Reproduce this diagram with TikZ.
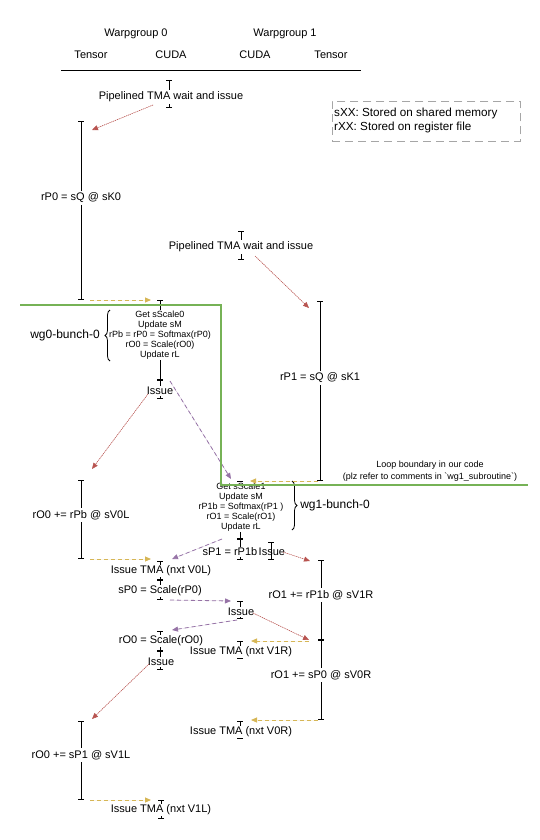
\documentclass[tikz,border=0pt]{standalone}
\usepackage{fontspec}
\setmainfont{Liberation Sans}
\usetikzlibrary{arrows.meta,decorations.pathreplacing}
\definecolor{redline}{HTML}{B85450}
\definecolor{yellowline}{HTML}{D6B656}
\definecolor{purpleline}{HTML}{9673A6}
\definecolor{loopgreen}{RGB}{118,178,86}
\definecolor{legendgray}{HTML}{A6A6A6}
\begin{document}
\begin{tikzpicture}[x=1pt,y=-1pt,
  txt/.style={inner sep=1pt, font=\fontsize{11}{13}\selectfont},
  lbl/.style={fill=white, inner sep=2pt, font=\fontsize{11}{13}\selectfont},
  blocktxt/.style={fill=white, inner sep=0.5pt, align=center, font=\fontsize{9}{10}\selectfont},
  bunch/.style={inner sep=1pt, font=\fontsize{12}{14}\selectfont},
  small/.style={inner sep=1pt, font=\fontsize{9}{11}\selectfont},
  ivl/.style={line width=0.9pt, {Bar[width=6pt]}-{Bar[width=6pt]}},
  tip/.style={-{Triangle[length=6pt,width=5pt]}},
  issuearrow/.style={tip, draw=redline, fill=redline, line width=0.6pt, dash pattern=on 1pt off 1pt},
  tmaarrow/.style={tip, draw=yellowline, fill=yellowline, line width=0.9pt, dash pattern=on 4pt off 3pt},
  softarrow/.style={tip, draw=purpleline, fill=purpleline, line width=0.8pt, dash pattern=on 4pt off 3pt},
  loopline/.style={draw=loopgreen, line width=1.1pt},
  bracestyle/.style={decorate, decoration={brace, amplitude=5pt}, line width=0.8pt}
]
\useasboundingbox (0,0) rectangle (540,840);

% ---- column header ----
\node[txt] (hwg0) at (136,34) {Warpgroup 0};
\node[txt] (hwg1) at (285,34) {Warpgroup 1};
\node[txt] (ht0) at (91,55) {Tensor};
\node[txt] (hc0) at (171,55) {CUDA};
\node[txt] (hc1) at (255,55) {CUDA};
\node[txt] (ht1) at (331,55) {Tensor};
\coordinate (ruleL) at (61,70);
\coordinate (ruleR) at (361,70);
\draw[line width=0.9pt] (ruleL) -- (ruleR);

% ---- legend ----
\node[draw=legendgray, dash pattern=on 8pt off 5pt, line width=0.7pt,
      minimum width=188pt, minimum height=40pt, anchor=north west] (legend) at (332,101) {};
\node[txt, anchor=west, font=\fontsize{11.7}{13}\selectfont] (leg1) at (333,113) {sXX: Stored on shared memory};
\node[txt, anchor=west, font=\fontsize{11.7}{13}\selectfont] (leg2) at (333,127) {rXX: Stored on register file};

% ---- pipelined TMA, warpgroup 0 ----
\coordinate (pa0) at (169,80); \coordinate (pa1) at (169,108);
\draw[ivl] (pa0) -- (pa1);
\node[lbl] (pipe0) at (171,97) {Pipelined TMA wait and issue};

% ---- rP0 = sQ @ sK0 ----
\coordinate (qa0) at (81,121); \coordinate (qa1) at (81,300);
\draw[ivl] (qa0) -- (qa1);
\node[lbl] (gemm0) at (81,198) {rP0 = sQ @ sK0};

% ---- pipelined TMA, warpgroup 1 ----
\coordinate (pb0) at (241,231); \coordinate (pb1) at (241,260);
\draw[ivl] (pb0) -- (pb1);
\node[lbl] (pipe1) at (241,247) {Pipelined TMA wait and issue};

% ---- rP1 = sQ @ sK1 ----
\coordinate (qb0) at (320,301); \coordinate (qb1) at (320,481);
\draw[ivl] (qb0) -- (qb1);
\node[lbl] (gemm1) at (320,378) {rP1 = sQ @ sK1};

% ---- wg0 bunch 0 ----
\coordinate (wa0) at (160,300); \coordinate (wa1) at (160,380); \coordinate (wa2) at (160,399);
\draw[ivl] (wa0) -- (wa1);
\draw[ivl] (wa1) -- (wa2);
\node[blocktxt] (bunch0) at (160,335) {Get sScale0\\Update sM\\rPb = rP0 = Softmax(rP0)\\rO0 = Scale(rO0)\\Update rL};
\node[lbl, inner sep=1pt] (issue0) at (160,391) {Issue};
\coordinate (br0a) at (110,361); \coordinate (br0b) at (110,310);
\draw[bracestyle] (br0a) -- (br0b);
\node[bunch] (bunch0lbl) at (65,335) {wg0-bunch-0};

% ---- rO0 += rPb @ sV0L ----
\coordinate (ra0) at (81,480); \coordinate (ra1) at (81,559);
\draw[ivl] (ra0) -- (ra1);
\node[lbl] (pv0) at (81,515) {rO0 += rPb @ sV0L};

% ---- wg1 bunch 0 ----
\coordinate (wb0) at (240,481); \coordinate (wb1) at (240,539); \coordinate (wb2) at (240,560);
\draw[ivl] (wb0) -- (wb1);
\draw[ivl] (wb1) -- (wb2);
\node[blocktxt] (bunch1) at (241,507) {Get sScale1\\Update sM\\rP1b = Softmax(rP1 )\\rO1 = Scale(rO1)\\Update rL};
\coordinate (br1a) at (292,481); \coordinate (br1b) at (292,530);
\draw[bracestyle] (br1a) -- (br1b);
\node[bunch] (bunch1lbl) at (335,505) {wg1-bunch-0};
\coordinate (wc0) at (271,542); \coordinate (wc1) at (271,560);
\draw[ivl] (wc0) -- (wc1);
\node[lbl, inner sep=1pt, anchor=east] (sp1) at (258.5,552) {sP1 = rP1b};
\node[txt, anchor=west, inner sep=0pt] (issue1) at (258.5,552) {Issue};

% ---- loop boundary note ----
\node[small] (loop1) at (430,465) {Loop boundary in our code};
\node[small] (loop2) at (430,477) {(plz refer to comments in \textasciigrave wg1\_subroutine\textasciigrave)};

% ---- rO1 += rP1b @ sV1R / rO1 += sP0 @ sV0R ----
\coordinate (rb0) at (321,560); \coordinate (rb1) at (321,640); \coordinate (rb2) at (321,720);
\draw[ivl] (rb0) -- (rb1);
\draw[ivl] (rb1) -- (rb2);
\node[lbl] (pv1) at (321,595) {rO1 += rP1b @ sV1R};
\node[lbl] (pv2) at (321,675) {rO1 += sP0 @ sV0R};

% ---- warpgroup 0, CUDA after bunch 0 ----
\coordinate (ca0) at (160,561); \coordinate (ca1) at (160,580); \coordinate (ca2) at (160,600);
\draw[ivl] (ca0) -- (ca1);
\draw[ivl] (ca1) -- (ca2);
\node[lbl, inner sep=1pt] (tmav0l) at (161,571) {Issue TMA (nxt V0L)};
\node[lbl, inner sep=1pt] (sp0) at (160,591) {sP0 = Scale(rP0)};

\coordinate (cb0) at (240,601); \coordinate (cb1) at (240,619);
\draw[ivl] (cb0) -- (cb1);
\node[lbl, inner sep=1pt] (issue2) at (241,612) {Issue};

\coordinate (cc0) at (160,631); \coordinate (cc1) at (160,651); \coordinate (cc2) at (160,670);
\draw[ivl] (cc0) -- (cc1);
\draw[ivl] (cc1) -- (cc2);
\node[lbl, inner sep=1pt] (scale0) at (161,641) {rO0 = Scale(rO0)};
\node[lbl, inner sep=1pt] (issue3) at (161,662) {Issue};

\coordinate (cd0) at (240,641); \coordinate (cd1) at (240,659);
\draw[ivl] (cd0) -- (cd1);
\node[lbl, inner sep=1pt] (tmav1r) at (241,652) {Issue TMA (nxt V1R)};

\coordinate (ce0) at (240,721); \coordinate (ce1) at (240,739);
\draw[ivl] (ce0) -- (ce1);
\node[lbl, inner sep=1pt] (tmav0r) at (241,732) {Issue TMA (nxt V0R)};

% ---- rO0 += sP1 @ sV1L ----
\coordinate (rc0) at (81,721); \coordinate (rc1) at (81,800);
\draw[ivl] (rc0) -- (rc1);
\node[lbl] (pv3) at (81,755) {rO0 += sP1 @ sV1L};

\coordinate (cf0) at (161,800); \coordinate (cf1) at (161,819);
\draw[ivl] (cf0) -- (cf1);
\node[lbl, inner sep=1pt] (tmav1l) at (161,810) {Issue TMA (nxt V1L)};

% ---- issue arrows (red, dotted) ----
\coordinate (i1s) at (153,105); \coordinate (i1e) at (92,130);
\draw[issuearrow] (i1s) -- (i1e);
\coordinate (i2s) at (255,256); \coordinate (i2e) at (309,308);
\draw[issuearrow] (i2s) -- (i2e);
\coordinate (i3s) at (148,394); \coordinate (i3e) at (92,469);
\draw[issuearrow] (i3s) -- (i3e);
\coordinate (i4s) at (283,552); \coordinate (i4e) at (310,561);
\draw[issuearrow] (i4s) -- (i4e);
\coordinate (i5s) at (253,613); \coordinate (i5e) at (309,640);
\draw[issuearrow] (i5s) -- (i5e);
\coordinate (i6s) at (149,664); \coordinate (i6e) at (92,719);
\draw[issuearrow] (i6s) -- (i6e);

% ---- TMA arrows (yellow, dashed) ----
\coordinate (t1s) at (90,300); \coordinate (t1e) at (151,300);
\draw[tmaarrow] (t1s) -- (t1e);
\coordinate (t2s) at (318,481); \coordinate (t2e) at (250,481);
\draw[tmaarrow] (t2s) -- (t2e);
\coordinate (t3s) at (90,559); \coordinate (t3e) at (151,559);
\draw[tmaarrow] (t3s) -- (t3e);
\coordinate (t4s) at (309,641); \coordinate (t4e) at (251,641);
\draw[tmaarrow] (t4s) -- (t4e);
\coordinate (t5s) at (318,720); \coordinate (t5e) at (251,720);
\draw[tmaarrow] (t5s) -- (t5e);
\coordinate (t6s) at (90,800); \coordinate (t6e) at (151,800);
\draw[tmaarrow] (t6s) -- (t6e);

% ---- softmax hand-off arrows (purple, dashed) ----
\coordinate (s1s) at (170,381); \coordinate (s1e) at (231,479);
\draw[softarrow] (s1s) -- (s1e);
\coordinate (s2s) at (222,539); \coordinate (s2e) at (172,559);
\draw[softarrow] (s2s) -- (s2e);
\coordinate (s3s) at (170,600); \coordinate (s3e) at (231,601);
\draw[softarrow] (s3s) -- (s3e);
\coordinate (s4s) at (237,620); \coordinate (s4e) at (172,630);
\draw[softarrow] (s4s) -- (s4e);

% ---- loop boundary ----
\coordinate (g0) at (20,305); \coordinate (g1) at (221,305);
\coordinate (g2) at (221,485); \coordinate (g3) at (528,485);
\draw[loopline] (g0) -- (g1) -- (g2) -- (g3);
\end{tikzpicture}
\end{document}
